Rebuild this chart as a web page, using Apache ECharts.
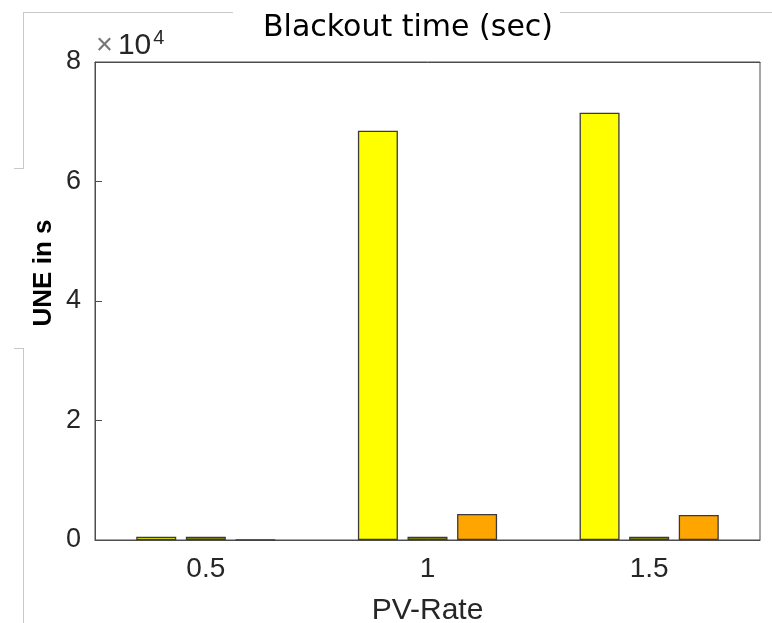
<!DOCTYPE html>
<html>
<head>
<meta charset="utf-8">
<script src="https://cdn.jsdelivr.net/npm/echarts@6/dist/echarts.min.js"></script>
<style>
  html, body { margin: 0; padding: 0; background: #fff; }
  #main { width: 772px; height: 623px; }
</style>
</head>
<body>
<div id="main"></div>
<script>
// PV-Rate groups
const categories = ['0.5', '1', '1.5'];
// blackout time per case (s)
const yellowValues = [550, 68500, 71500];
const oliveValues = [550, 550, 550];
const orangeValues = [50, 4350, 4200];
const yTicks = [0, 20000, 40000, 60000, 80000];

const frameColor = '#c8c8c8';
const axisColor = '#4d4d4d';

function barSeries (name, data, color) {
    return {
        name: name,
        type: 'bar',
        data: data,
        barWidth: 40,
        barGap: '24%',
        itemStyle: { color: color, borderColor: '#3a3a3a', borderWidth: 1.3 }
    };
}

let myChart = echarts.init(document.getElementById('main'));
myChart.setOption({
    animation: false,
    title: {
        text: 'Blackout time (sec)',
        left: 403,
        textAlign: 'center',
        top: 8,
        textStyle: { fontFamily: 'DejaVu Sans', fontWeight: 'normal', fontSize: 30, color: '#000' }
    },
    grid: {
        left: 95, right: 12, top: 62, bottom: 83,
        outerBoundsMode: 'none',
        containLabel: false,
        show: true, borderColor: axisColor, borderWidth: 1, backgroundColor: 'transparent'
    },
    xAxis: [{
        type: 'category',
        data: categories,
        name: 'PV-Rate',
        nameLocation: 'middle',
        nameGap: 56,
        nameTextStyle: { fontFamily: 'Liberation Sans', fontSize: 30, color: '#262626' },
        axisLine: { lineStyle: { color: axisColor } },
        axisTick: { inside: true, alignWithLabel: true, length: 7, lineStyle: { color: axisColor } },
        axisLabel: { fontFamily: 'Liberation Sans', fontSize: 28, color: '#262626', margin: 15 }
    }, {
        type: 'category',
        data: categories,
        position: 'top',
        axisLine: { lineStyle: { color: axisColor } },
        axisTick: { inside: true, alignWithLabel: true, length: 7, lineStyle: { color: axisColor } },
        axisLabel: { show: false }
    }],
    yAxis: {
        type: 'value',
        min: yTicks[0],
        max: yTicks[yTicks.length - 1],
        interval: yTicks[1] - yTicks[0],
        splitLine: { show: false },
        axisLine: { show: true, lineStyle: { color: axisColor } },
        axisTick: { show: true, inside: true, length: 7, lineStyle: { color: axisColor } },
        axisLabel: {
            fontFamily: 'Liberation Sans', fontSize: 27, color: '#262626', margin: 14,
            formatter: (v) => String(v / 10000)
        }
    },
    graphic: [
        {
            type: 'text', left: 96, top: 28,
            style: {
                text: '{x|×}{b|10}{s|4}',
                rich: {
                    x: { fontFamily: 'Liberation Sans', fontSize: 29, fill: '#777', padding: [0, 5, 0, 0] },
                    b: { fontFamily: 'Liberation Sans', fontSize: 30, fill: '#262626' },
                    s: { fontFamily: 'Liberation Sans', fontSize: 20, fill: '#262626', verticalAlign: 'top', padding: [0, 0, 16, 2] }
                }
            }
        },
        {
            type: 'text', x: 44, y: 273, rotation: Math.PI / 2,
            style: {
                text: 'UNE in s', fontFamily: 'Liberation Sans', fontWeight: 'bold', fontSize: 26,
                fill: '#000', textAlign: 'center', textVerticalAlign: 'middle'
            }
        },
        { type: 'line', shape: { x1: 23, y1: 12.5, x2: 233, y2: 12.5 }, style: { stroke: frameColor, lineWidth: 1 } },
        { type: 'line', shape: { x1: 560, y1: 12.5, x2: 772, y2: 12.5 }, style: { stroke: frameColor, lineWidth: 1 } },
        { type: 'line', shape: { x1: 23.5, y1: 12, x2: 23.5, y2: 168 }, style: { stroke: frameColor, lineWidth: 1 } },
        { type: 'line', shape: { x1: 14, y1: 168.5, x2: 24, y2: 168.5 }, style: { stroke: frameColor, lineWidth: 1 } },
        { type: 'line', shape: { x1: 14, y1: 348.5, x2: 24, y2: 348.5 }, style: { stroke: frameColor, lineWidth: 1 } },
        { type: 'line', shape: { x1: 23.5, y1: 348, x2: 23.5, y2: 623 }, style: { stroke: frameColor, lineWidth: 1 } }
    ],
    series: [
        barSeries('s1', yellowValues, '#ffff00'),
        barSeries('s2', oliveValues, '#8c8c00'),
        barSeries('s3', orangeValues, '#ffa500')
    ]
});
</script>
</body>
</html>
